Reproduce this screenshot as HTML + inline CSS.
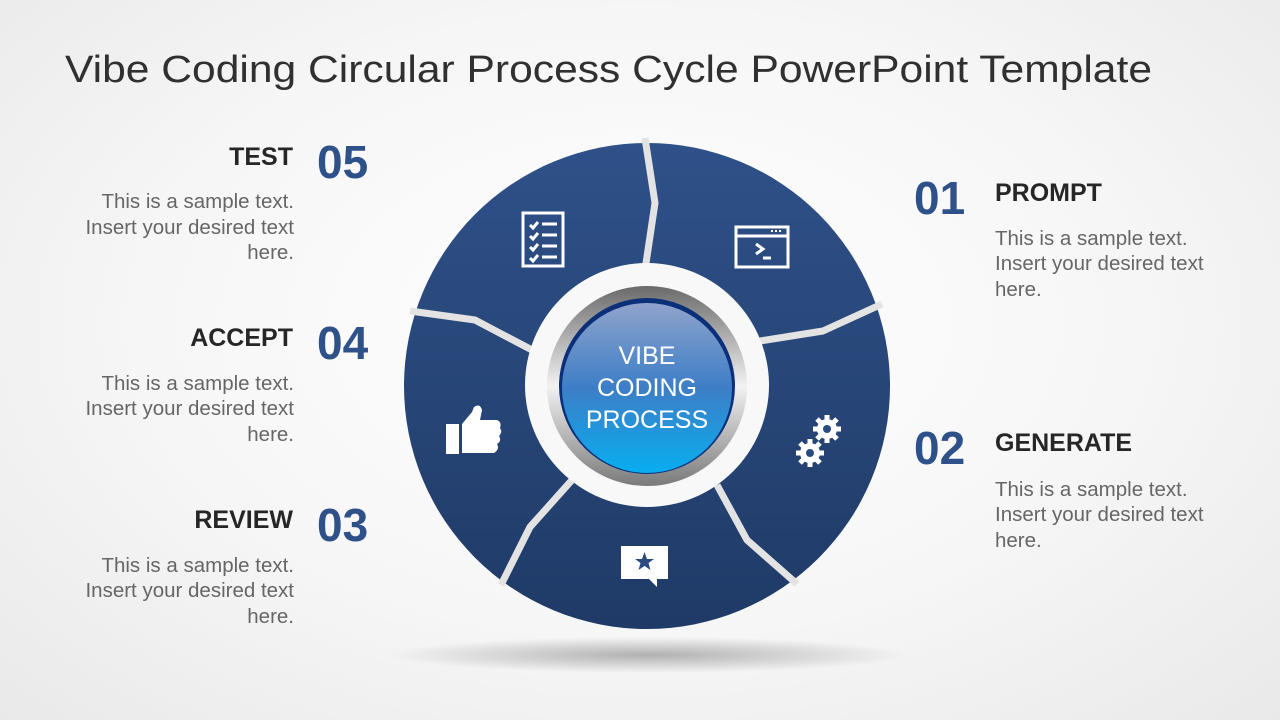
<!DOCTYPE html>
<html><head><meta charset="utf-8"><style>
html,body{margin:0;padding:0;width:1280px;height:720px;overflow:hidden}
body{background:radial-gradient(ellipse at 50% 45%,#ffffff 0%,#f6f6f6 55%,#e9e9e9 100%)}
svg{display:block}
text{font-family:"Liberation Sans",sans-serif}
</style></head><body>
<svg width="1280" height="720" viewBox="0 0 1280 720">
<defs>
<linearGradient id="seg" x1="0" y1="0" x2="0" y2="1">
<stop offset="0" stop-color="#2f5189"/><stop offset="1" stop-color="#1f3a66"/></linearGradient>
<radialGradient id="shadow" cx="0.5" cy="0.5" r="0.5">
<stop offset="0" stop-color="#000" stop-opacity="0.28"/><stop offset="1" stop-color="#000" stop-opacity="0"/></radialGradient>
<linearGradient id="ring" x1="0" y1="0" x2="0" y2="1">
<stop offset="0" stop-color="#6a6a6a"/><stop offset="0.5" stop-color="#f2f2f2"/><stop offset="1" stop-color="#7a7a7a"/></linearGradient>
<linearGradient id="core" x1="0" y1="0" x2="0" y2="1">
<stop offset="0" stop-color="#8fa3cc"/><stop offset="0.5" stop-color="#3d7ec6"/><stop offset="1" stop-color="#08aef0"/></linearGradient>
</defs>
<ellipse cx="648" cy="655" rx="260" ry="18" fill="url(#shadow)"/>
<text x="65" y="82" font-size="38" fill="#303030" textLength="1087" lengthAdjust="spacingAndGlyphs">Vibe Coding Circular Process Cycle PowerPoint Template</text>

<circle cx="647" cy="386" r="243" fill="url(#seg)"/>
<g fill="none" stroke="#e3e3e3" stroke-width="7" stroke-linejoin="round">
<polyline points="645,138 655,203 645,270"/>
<polyline points="882,304 823,331 760,341"/>
<polyline points="717,485 747,540 797,584"/>
<polyline points="572,480 530,527 501,585"/>
<polyline points="410,311 475,320 532,350"/>
</g>
<circle cx="647" cy="385" r="122" fill="#f8f8f8"/>
<circle cx="647" cy="386" r="100" fill="url(#ring)"/>
<circle cx="647" cy="386" r="88" fill="#0c2f7a"/>
<circle cx="647" cy="388" r="85" fill="url(#core)"/>
<g font-size="25" fill="#ffffff" text-anchor="middle">
<text x="647" y="364">VIBE</text>
<text x="647" y="396">CODING</text>
<text x="647" y="428">PROCESS</text>
</g>

<g fill="none" stroke="#fff" stroke-width="3">
<rect x="523" y="213" width="40" height="53"/>
<path d="M530 225l3 3 5-6M530 236l3 3 5-6M530 247l3 3 5-6M530 258l3 3 5-6"/>
<path d="M542 224h15M542 235h15M542 246h15M542 257h15"/>
</g>
<g fill="none" stroke="#fff" stroke-width="3">
<rect x="736" y="227" width="52" height="40"/>
<path d="M737 236h50"/>
<path d="M756 244l7 5-7 5M763 258h8"/>
</g>
<g fill="#fff"><rect x="771" y="230" width="2" height="2"/><rect x="775" y="230" width="2" height="2"/><rect x="779" y="230" width="2" height="2"/></g>
<g fill="#fff">
<circle cx="827" cy="429" r="10"/>
<g stroke="#fff" stroke-width="5"><path d="M827 415v28M813 429h28M817 419l20 20M837 419l-20 20"/></g>
<circle cx="810" cy="453" r="10"/>
<g stroke="#fff" stroke-width="5"><path d="M810 439v28M796 453h28M800 443l20 20M820 443l-20 20"/></g>
</g>
<circle cx="827" cy="429" r="4" fill="#2a4a80"/>
<circle cx="810" cy="453" r="4" fill="#2a4a80"/>
<g fill="#fff">
<rect x="446" y="424" width="13" height="30"/>
<path d="M462 424 L472 412 L474 407 Q480 403 482 410 L480 420 L497 420 Q502 422 500 428 Q503 432 499 436 Q502 441 497 444 Q500 449 494 453 L462 453 Z"/>
</g>
<path d="M621 546h47v33h-11v8l-8-8h-28z" fill="#fff"/>
<polygon points="644.5,552 647,559 654,559 648.5,563 650.5,570 644.5,566 638.5,570 640.5,563 635,559 642,559" fill="#2a4a80"/>

<g text-anchor="end">
<text x="293" y="165" font-size="25" font-weight="bold" fill="#262626">TEST</text>
<text x="293" y="346" font-size="25" font-weight="bold" fill="#262626">ACCEPT</text>
<text x="293" y="528" font-size="25" font-weight="bold" fill="#262626">REVIEW</text>
<g font-size="20.5" fill="#666">
<text x="294" y="208">This is a sample text.</text><text x="294" y="234">Insert your desired text</text><text x="294" y="259">here.</text>
<text x="294" y="390">This is a sample text.</text><text x="294" y="415">Insert your desired text</text><text x="294" y="441">here.</text>
<text x="294" y="572">This is a sample text.</text><text x="294" y="597">Insert your desired text</text><text x="294" y="623">here.</text>
</g>
</g>
<g font-size="46" font-weight="bold" fill="#2f5189">
<text x="317" y="178">05</text>
<text x="317" y="359">04</text>
<text x="317" y="541">03</text>
<text x="914" y="214">01</text>
<text x="914" y="464">02</text>
</g>
<text x="995" y="201" font-size="25" font-weight="bold" fill="#262626">PROMPT</text>
<text x="995" y="451" font-size="25" font-weight="bold" fill="#262626">GENERATE</text>
<g font-size="20.5" fill="#666">
<text x="995" y="245">This is a sample text.</text><text x="995" y="270">Insert your desired text</text><text x="995" y="296">here.</text>
<text x="995" y="496">This is a sample text.</text><text x="995" y="521">Insert your desired text</text><text x="995" y="547">here.</text>
</g>
</svg>
</body></html>
